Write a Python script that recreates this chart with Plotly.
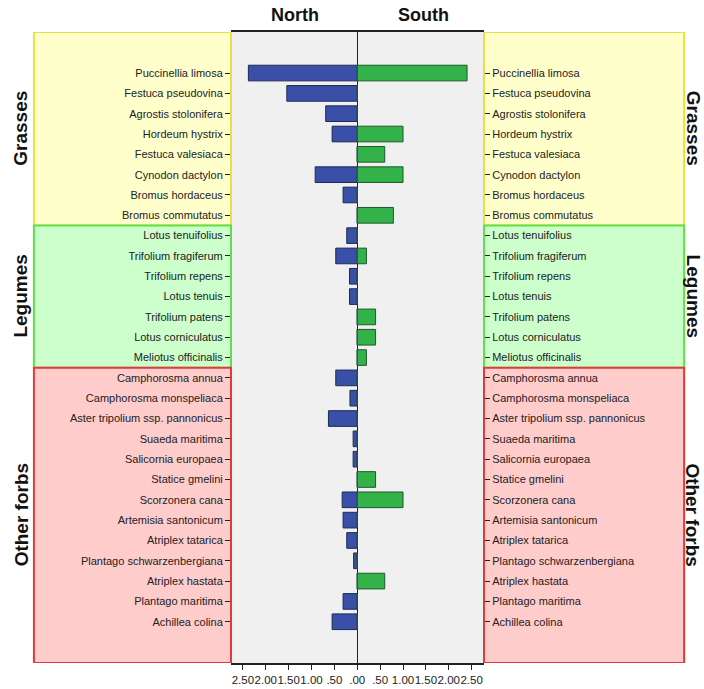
import plotly.graph_objects as go

# Species, grouped by plant type (top to bottom)
grasses = ["Puccinellia limosa", "Festuca pseudovina", "Agrostis stolonifera", "Hordeum hystrix",
           "Festuca valesiaca", "Cynodon dactylon", "Bromus hordaceus", "Bromus commutatus"]
legumes = ["Lotus tenuifolius", "Trifolium fragiferum", "Trifolium repens", "Lotus tenuis",
           "Trifolium patens", "Lotus corniculatus", "Meliotus officinalis"]
forbs = ["Camphorosma annua", "Camphorosma monspeliaca", "Aster tripolium ssp. pannonicus",
         "Suaeda maritima", "Salicornia europaea", "Statice gmelini", "Scorzonera cana",
         "Artemisia santonicum", "Atriplex tatarica", "Plantago schwarzenbergiana",
         "Atriplex hastata", "Plantago maritima", "Achillea colina"]

species = grasses + legumes + forbs

north = [2.38, 1.54, 0.69, 0.55, 0.0, 0.92, 0.31, 0.0,
         0.23, 0.47, 0.17, 0.17, 0.0, 0.0, 0.0,
         0.47, 0.16, 0.63, 0.09, 0.09, 0.0, 0.33, 0.31, 0.23, 0.08, 0.0, 0.31, 0.55]
south = [2.40, 0.0, 0.0, 1.00, 0.60, 1.00, 0.0, 0.79,
         0.0, 0.20, 0.0, 0.0, 0.40, 0.40, 0.20,
         0.0, 0.0, 0.0, 0.0, 0.0, 0.40, 1.00, 0.0, 0.0, 0.0, 0.60, 0.0, 0.0]

x_tickvals = [-2.5, -2.0, -1.5, -1.0, -0.5, 0.0, 0.5, 1.0, 1.5, 2.0, 2.5]
x_ticktext = ["2.50", "2.00", "1.50", "1.00", ".50", ".00", ".50", "1.00", "1.50", "2.00", "2.50"]

groups = [("Grasses", len(grasses), "#FFFFCC", "#E6E04A"),
          ("Legumes", len(legumes), "#CCFFCC", "#5FE04A"),
          ("Other forbs", len(forbs), "#FFCCCC", "#E03A3A")]

ypos = list(range(len(species)))
Y_TOP, Y_BOT = -2.02, 29.03
FONT = "Liberation Sans, Arial"

fig = go.Figure()
fig.add_trace(go.Bar(
    y=ypos, x=[-v for v in north], orientation="h", width=0.77,
    marker=dict(color="#3A50A8", line=dict(color="#1E2A55", width=1)),
    showlegend=False, hoverinfo="skip"))
fig.add_trace(go.Bar(
    y=ypos, x=south, orientation="h", width=0.77,
    marker=dict(color="#33B24A", line=dict(color="#1E5A28", width=1)),
    showlegend=False, hoverinfo="skip"))
# invisible trace carrying the right-hand species axis
fig.add_trace(go.Scatter(y=ypos, x=[0] * len(ypos), yaxis="y2", mode="markers",
                         marker=dict(opacity=0), showlegend=False, hoverinfo="skip"))

shapes = []
annotations = []
start = 0
for i, (name, n, fill, edge) in enumerate(groups):
    y0 = Y_TOP if i == 0 else start - 0.5
    y1 = Y_BOT if i == len(groups) - 1 else start + n - 0.5
    for (xa, xb) in [(-0.779, 0.0), (1.0, 1.791)]:
        shapes.append(dict(type="rect", xref="paper", yref="y", x0=xa, x1=xb, y0=y0, y1=y1,
                           fillcolor=fill, line=dict(color=edge, width=2), layer="below"))
    yc = (y0 + y1) / 2
    for xp, ang in [(-0.83, -90), (1.826, 90)]:
        annotations.append(dict(text=name, xref="paper", yref="y", x=xp, y=yc, textangle=ang,
                                xanchor="center", yanchor="middle", showarrow=False,
                                font=dict(size=19, color="#111111", family=FONT, weight="bold")))
    start += n

for label, xp in [("North", 0.253), ("South", 0.759)]:
    annotations.append(dict(text=label, xref="paper", yref="paper", x=xp, y=1.027,
                            xanchor="center", yanchor="middle", showarrow=False,
                            font=dict(size=18, color="#111111", family=FONT, weight="bold")))

tickfont = dict(size=11, color="#222222", family=FONT)
yaxis_common = dict(range=[Y_BOT, Y_TOP], tickvals=ypos, ticktext=species, ticks="outside",
                    ticklen=5, tickcolor="#222222", tickfont=tickfont, showgrid=False,
                    zeroline=False, showline=False, automargin=False)

fig.update_layout(
    width=704, height=689,
    margin=dict(l=231, r=220, t=32, b=26, autoexpand=False),
    paper_bgcolor="white", plot_bgcolor="#F0F0F0",
    barmode="overlay",
    xaxis=dict(range=[-2.76, 2.77], tickvals=x_tickvals, ticktext=x_ticktext, ticks="outside",
               ticklen=5, tickcolor="#222222", tickangle=0, automargin=False,
               showgrid=False, zeroline=True,
               zerolinecolor="#222222", zerolinewidth=1, showline=True, linecolor="#222222",
               linewidth=1.5, mirror=True,
               tickfont=dict(size=11.5, color="#222222", family=FONT)),
    yaxis=dict(side="left", **yaxis_common),
    yaxis2=dict(side="right", overlaying="y", **yaxis_common),
    shapes=shapes, annotations=annotations,
)

fig.write_html("out.html")
